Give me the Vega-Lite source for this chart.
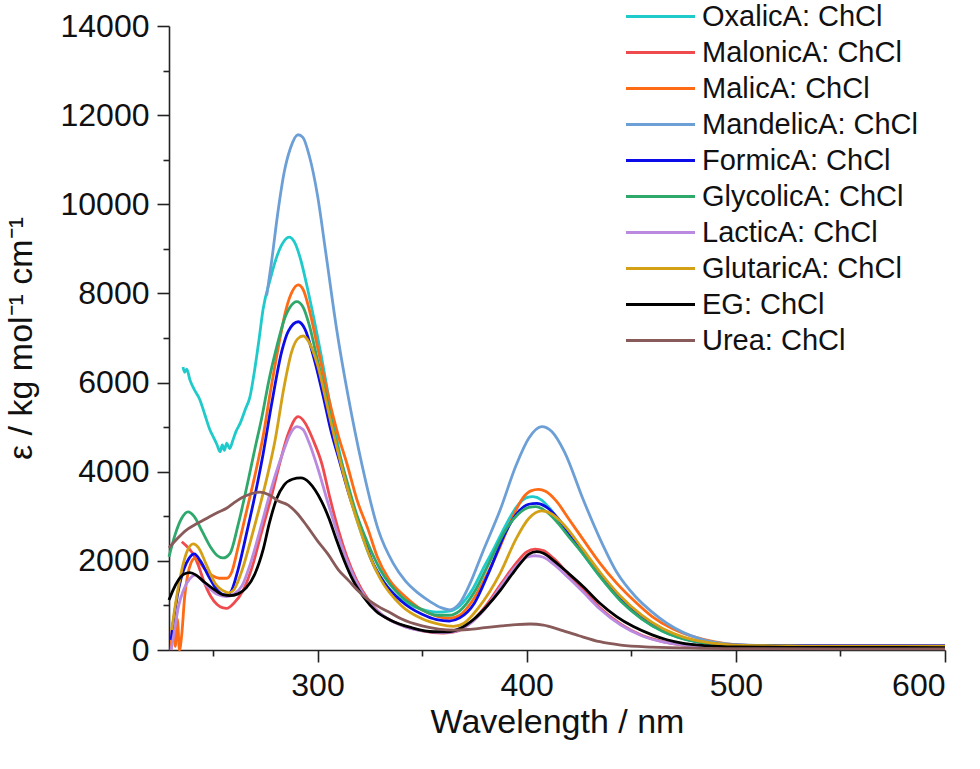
{
  "$schema": "https://vega.github.io/schema/vega-lite/v6.json",
  "width": 776,
  "height": 624,
  "autosize": {"type": "none"},
  "padding": {"left": 169, "top": 26, "right": 35, "bottom": 119},
  "background": "white",
  "config": {
    "view": {"stroke": null},
    "font": "Liberation Sans",
    "axis": {"grid": false, "domainColor": "#222", "tickColor": "#222", "domainWidth": 1.6, "tickWidth": 1.6, "labelColor": "#111", "titleColor": "#111", "labelFont": "Liberation Sans", "titleFont": "Liberation Sans", "titleFontWeight": "normal"}
  },
  "datasets": {
    "spec": [
      {"series":"OxalicA: ChCl","wl":235.7,"eps":6350},{"series":"OxalicA: ChCl","wl":236.5,"eps":6230},{"series":"OxalicA: ChCl","wl":237.5,"eps":6300},{"series":"OxalicA: ChCl","wl":239,"eps":6060},{"series":"OxalicA: ChCl","wl":241,"eps":5850},{"series":"OxalicA: ChCl","wl":243.8,"eps":5610},{"series":"OxalicA: ChCl","wl":246,"eps":5300},{"series":"OxalicA: ChCl","wl":248.6,"eps":4935},{"series":"OxalicA: ChCl","wl":250.5,"eps":4750},{"series":"OxalicA: ChCl","wl":252,"eps":4600},{"series":"OxalicA: ChCl","wl":253.4,"eps":4450},{"series":"OxalicA: ChCl","wl":254.5,"eps":4600},{"series":"OxalicA: ChCl","wl":255.5,"eps":4480},{"series":"OxalicA: ChCl","wl":256.6,"eps":4640},{"series":"OxalicA: ChCl","wl":258,"eps":4520},{"series":"OxalicA: ChCl","wl":259.5,"eps":4700},{"series":"OxalicA: ChCl","wl":261,"eps":4900},{"series":"OxalicA: ChCl","wl":263,"eps":5085},{"series":"OxalicA: ChCl","wl":265.5,"eps":5400},{"series":"OxalicA: ChCl","wl":267.7,"eps":5680},{"series":"OxalicA: ChCl","wl":270,"eps":6300},{"series":"OxalicA: ChCl","wl":272,"eps":6950},{"series":"OxalicA: ChCl","wl":274,"eps":7650},{"series":"OxalicA: ChCl","wl":277.3,"eps":8300},{"series":"OxalicA: ChCl","wl":280,"eps":8750},{"series":"OxalicA: ChCl","wl":283,"eps":9100},{"series":"OxalicA: ChCl","wl":286.4,"eps":9265},{"series":"OxalicA: ChCl","wl":289,"eps":9150},{"series":"OxalicA: ChCl","wl":292,"eps":8750},{"series":"OxalicA: ChCl","wl":294.8,"eps":8200},{"series":"OxalicA: ChCl","wl":298,"eps":7500},{"series":"OxalicA: ChCl","wl":302,"eps":6550},{"series":"OxalicA: ChCl","wl":306,"eps":5500},{"series":"OxalicA: ChCl","wl":310,"eps":4550},{"series":"OxalicA: ChCl","wl":315,"eps":3550},{"series":"OxalicA: ChCl","wl":320,"eps":2750},{"series":"OxalicA: ChCl","wl":325,"eps":2100},{"series":"OxalicA: ChCl","wl":330,"eps":1650},{"series":"OxalicA: ChCl","wl":336,"eps":1280},{"series":"OxalicA: ChCl","wl":343,"eps":1040},{"series":"OxalicA: ChCl","wl":350,"eps":910},{"series":"OxalicA: ChCl","wl":357,"eps":850},{"series":"OxalicA: ChCl","wl":363,"eps":870},{"series":"OxalicA: ChCl","wl":368,"eps":990},{"series":"OxalicA: ChCl","wl":374,"eps":1350},{"series":"OxalicA: ChCl","wl":380,"eps":1900},{"series":"OxalicA: ChCl","wl":384,"eps":2245},{"series":"OxalicA: ChCl","wl":390,"eps":2800},{"series":"OxalicA: ChCl","wl":395,"eps":3200},{"series":"OxalicA: ChCl","wl":400,"eps":3420},{"series":"OxalicA: ChCl","wl":403,"eps":3440},{"series":"OxalicA: ChCl","wl":407,"eps":3370},{"series":"OxalicA: ChCl","wl":412,"eps":3120},{"series":"OxalicA: ChCl","wl":418,"eps":2720},{"series":"OxalicA: ChCl","wl":427,"eps":2150},{"series":"OxalicA: ChCl","wl":435,"eps":1650},{"series":"OxalicA: ChCl","wl":445,"eps":1100},{"series":"OxalicA: ChCl","wl":455,"eps":700},{"series":"OxalicA: ChCl","wl":465,"eps":420},{"series":"OxalicA: ChCl","wl":475,"eps":250},{"series":"OxalicA: ChCl","wl":485,"eps":160},{"series":"OxalicA: ChCl","wl":500,"eps":105},{"series":"OxalicA: ChCl","wl":525,"eps":85},{"series":"OxalicA: ChCl","wl":550,"eps":80},{"series":"OxalicA: ChCl","wl":575,"eps":78},{"series":"OxalicA: ChCl","wl":600,"eps":78},

      {"series":"MalonicA: ChCl","wl":235.1,"eps":2430},{"series":"MalonicA: ChCl","wl":237,"eps":2350},{"series":"MalonicA: ChCl","wl":239,"eps":2250},{"series":"MalonicA: ChCl","wl":241,"eps":2120},{"series":"MalonicA: ChCl","wl":243,"eps":1900},{"series":"MalonicA: ChCl","wl":246,"eps":1500},{"series":"MalonicA: ChCl","wl":249,"eps":1200},{"series":"MalonicA: ChCl","wl":252,"eps":1020},{"series":"MalonicA: ChCl","wl":254.5,"eps":950},{"series":"MalonicA: ChCl","wl":256.6,"eps":935},{"series":"MalonicA: ChCl","wl":260,"eps":1050},{"series":"MalonicA: ChCl","wl":264.5,"eps":1345},{"series":"MalonicA: ChCl","wl":269,"eps":1900},{"series":"MalonicA: ChCl","wl":273,"eps":2600},{"series":"MalonicA: ChCl","wl":278,"eps":3450},{"series":"MalonicA: ChCl","wl":282,"eps":4200},{"series":"MalonicA: ChCl","wl":286,"eps":4850},{"series":"MalonicA: ChCl","wl":290.8,"eps":5235},{"series":"MalonicA: ChCl","wl":294,"eps":5100},{"series":"MalonicA: ChCl","wl":298,"eps":4700},{"series":"MalonicA: ChCl","wl":302,"eps":4190},{"series":"MalonicA: ChCl","wl":306,"eps":3400},{"series":"MalonicA: ChCl","wl":310,"eps":2690},{"series":"MalonicA: ChCl","wl":314,"eps":2100},{"series":"MalonicA: ChCl","wl":318.7,"eps":1570},{"series":"MalonicA: ChCl","wl":324,"eps":1150},{"series":"MalonicA: ChCl","wl":330,"eps":820},{"series":"MalonicA: ChCl","wl":340,"eps":560},{"series":"MalonicA: ChCl","wl":350,"eps":430},{"series":"MalonicA: ChCl","wl":360,"eps":380},{"series":"MalonicA: ChCl","wl":366,"eps":410},{"series":"MalonicA: ChCl","wl":372,"eps":570},{"series":"MalonicA: ChCl","wl":380,"eps":960},{"series":"MalonicA: ChCl","wl":388,"eps":1500},{"series":"MalonicA: ChCl","wl":395,"eps":1950},{"series":"MalonicA: ChCl","wl":400,"eps":2200},{"series":"MalonicA: ChCl","wl":404,"eps":2265},{"series":"MalonicA: ChCl","wl":408,"eps":2230},{"series":"MalonicA: ChCl","wl":413,"eps":2050},{"series":"MalonicA: ChCl","wl":420,"eps":1700},{"series":"MalonicA: ChCl","wl":427,"eps":1350},{"series":"MalonicA: ChCl","wl":435,"eps":950},{"series":"MalonicA: ChCl","wl":445,"eps":580},{"series":"MalonicA: ChCl","wl":455,"eps":330},{"series":"MalonicA: ChCl","wl":465,"eps":190},{"series":"MalonicA: ChCl","wl":475,"eps":110},{"series":"MalonicA: ChCl","wl":485,"eps":80},{"series":"MalonicA: ChCl","wl":500,"eps":62},{"series":"MalonicA: ChCl","wl":525,"eps":57},{"series":"MalonicA: ChCl","wl":550,"eps":55},{"series":"MalonicA: ChCl","wl":600,"eps":55},

      {"series":"MalicA: ChCl","wl":230,"eps":0},{"series":"MalicA: ChCl","wl":231,"eps":650},{"series":"MalicA: ChCl","wl":232,"eps":80},{"series":"MalicA: ChCl","wl":233,"eps":700},{"series":"MalicA: ChCl","wl":234,"eps":0},{"series":"MalicA: ChCl","wl":235,"eps":300},{"series":"MalicA: ChCl","wl":236.5,"eps":1200},{"series":"MalicA: ChCl","wl":238,"eps":1700},{"series":"MalicA: ChCl","wl":239.5,"eps":1950},{"series":"MalicA: ChCl","wl":241.1,"eps":2050},{"series":"MalicA: ChCl","wl":243,"eps":2000},{"series":"MalicA: ChCl","wl":246,"eps":1820},{"series":"MalicA: ChCl","wl":250,"eps":1660},{"series":"MalicA: ChCl","wl":253,"eps":1610},{"series":"MalicA: ChCl","wl":256.6,"eps":1610},{"series":"MalicA: ChCl","wl":259,"eps":1750},{"series":"MalicA: ChCl","wl":262,"eps":2300},{"series":"MalicA: ChCl","wl":266,"eps":3100},{"series":"MalicA: ChCl","wl":270,"eps":3900},{"series":"MalicA: ChCl","wl":274,"eps":4800},{"series":"MalicA: ChCl","wl":277.5,"eps":5800},{"series":"MalicA: ChCl","wl":281.3,"eps":6800},{"series":"MalicA: ChCl","wl":285,"eps":7650},{"series":"MalicA: ChCl","wl":288,"eps":8050},{"series":"MalicA: ChCl","wl":290.8,"eps":8190},{"series":"MalicA: ChCl","wl":293,"eps":8100},{"series":"MalicA: ChCl","wl":296,"eps":7650},{"series":"MalicA: ChCl","wl":300,"eps":6800},{"series":"MalicA: ChCl","wl":305.2,"eps":5680},{"series":"MalicA: ChCl","wl":310,"eps":4800},{"series":"MalicA: ChCl","wl":314,"eps":4190},{"series":"MalicA: ChCl","wl":319,"eps":3350},{"series":"MalicA: ChCl","wl":324.3,"eps":2690},{"series":"MalicA: ChCl","wl":328.5,"eps":2100},{"series":"MalicA: ChCl","wl":334,"eps":1600},{"series":"MalicA: ChCl","wl":342,"eps":1195},{"series":"MalicA: ChCl","wl":350,"eps":900},{"series":"MalicA: ChCl","wl":357,"eps":760},{"series":"MalicA: ChCl","wl":363,"eps":710},{"series":"MalicA: ChCl","wl":368,"eps":780},{"series":"MalicA: ChCl","wl":374,"eps":1100},{"series":"MalicA: ChCl","wl":380,"eps":1600},{"series":"MalicA: ChCl","wl":387.3,"eps":2320},{"series":"MalicA: ChCl","wl":393,"eps":2950},{"series":"MalicA: ChCl","wl":398,"eps":3400},{"series":"MalicA: ChCl","wl":402,"eps":3570},{"series":"MalicA: ChCl","wl":405.6,"eps":3605},{"series":"MalicA: ChCl","wl":409,"eps":3560},{"series":"MalicA: ChCl","wl":414,"eps":3350},{"series":"MalicA: ChCl","wl":420,"eps":2950},{"series":"MalicA: ChCl","wl":427.1,"eps":2470},{"series":"MalicA: ChCl","wl":435,"eps":1950},{"series":"MalicA: ChCl","wl":443,"eps":1500},{"series":"MalicA: ChCl","wl":451,"eps":1120},{"series":"MalicA: ChCl","wl":460,"eps":750},{"series":"MalicA: ChCl","wl":470,"eps":470},{"series":"MalicA: ChCl","wl":479.7,"eps":300},{"series":"MalicA: ChCl","wl":490,"eps":180},{"series":"MalicA: ChCl","wl":500,"eps":115},{"series":"MalicA: ChCl","wl":525,"eps":85},{"series":"MalicA: ChCl","wl":550,"eps":78},{"series":"MalicA: ChCl","wl":600,"eps":75},

      {"series":"MandelicA: ChCl","wl":275.7,"eps":7950},{"series":"MandelicA: ChCl","wl":278,"eps":8700},{"series":"MandelicA: ChCl","wl":281,"eps":9800},{"series":"MandelicA: ChCl","wl":284,"eps":10700},{"series":"MandelicA: ChCl","wl":287,"eps":11250},{"series":"MandelicA: ChCl","wl":290.7,"eps":11560},{"series":"MandelicA: ChCl","wl":293,"eps":11500},{"series":"MandelicA: ChCl","wl":296,"eps":11100},{"series":"MandelicA: ChCl","wl":300,"eps":10200},{"series":"MandelicA: ChCl","wl":304,"eps":8900},{"series":"MandelicA: ChCl","wl":309.2,"eps":7180},{"series":"MandelicA: ChCl","wl":314.7,"eps":5680},{"series":"MandelicA: ChCl","wl":321.1,"eps":4190},{"series":"MandelicA: ChCl","wl":329.1,"eps":2690},{"series":"MandelicA: ChCl","wl":336.2,"eps":1945},{"series":"MandelicA: ChCl","wl":342,"eps":1550},{"series":"MandelicA: ChCl","wl":348,"eps":1280},{"series":"MandelicA: ChCl","wl":354,"eps":1080},{"series":"MandelicA: ChCl","wl":359,"eps":950},{"series":"MandelicA: ChCl","wl":363.3,"eps":900},{"series":"MandelicA: ChCl","wl":368,"eps":1050},{"series":"MandelicA: ChCl","wl":373,"eps":1500},{"series":"MandelicA: ChCl","wl":379,"eps":2200},{"series":"MandelicA: ChCl","wl":387.3,"eps":3140},{"series":"MandelicA: ChCl","wl":395,"eps":4150},{"series":"MandelicA: ChCl","wl":401,"eps":4750},{"series":"MandelicA: ChCl","wl":407.2,"eps":5010},{"series":"MandelicA: ChCl","wl":412,"eps":4900},{"series":"MandelicA: ChCl","wl":418,"eps":4450},{"series":"MandelicA: ChCl","wl":427.1,"eps":3365},{"series":"MandelicA: ChCl","wl":435,"eps":2500},{"series":"MandelicA: ChCl","wl":443,"eps":1750},{"series":"MandelicA: ChCl","wl":452,"eps":1200},{"series":"MandelicA: ChCl","wl":460,"eps":850},{"series":"MandelicA: ChCl","wl":467,"eps":600},{"series":"MandelicA: ChCl","wl":475,"eps":390},{"series":"MandelicA: ChCl","wl":482.9,"eps":250},{"series":"MandelicA: ChCl","wl":490,"eps":170},{"series":"MandelicA: ChCl","wl":500,"eps":120},{"series":"MandelicA: ChCl","wl":525,"eps":92},{"series":"MandelicA: ChCl","wl":550,"eps":88},{"series":"MandelicA: ChCl","wl":600,"eps":85},

      {"series":"FormicA: ChCl","wl":230,"eps":225},{"series":"FormicA: ChCl","wl":231,"eps":600},{"series":"FormicA: ChCl","wl":233.5,"eps":1345},{"series":"FormicA: ChCl","wl":236,"eps":1800},{"series":"FormicA: ChCl","wl":238.5,"eps":2050},{"series":"FormicA: ChCl","wl":241.1,"eps":2155},{"series":"FormicA: ChCl","wl":244,"eps":2000},{"series":"FormicA: ChCl","wl":248,"eps":1650},{"series":"FormicA: ChCl","wl":252,"eps":1350},{"series":"FormicA: ChCl","wl":255.8,"eps":1235},{"series":"FormicA: ChCl","wl":258.2,"eps":1280},{"series":"FormicA: ChCl","wl":262,"eps":1800},{"series":"FormicA: ChCl","wl":266,"eps":2600},{"series":"FormicA: ChCl","wl":270,"eps":3450},{"series":"FormicA: ChCl","wl":274,"eps":4400},{"series":"FormicA: ChCl","wl":278,"eps":5500},{"series":"FormicA: ChCl","wl":282.9,"eps":6700},{"series":"FormicA: ChCl","wl":286,"eps":7150},{"series":"FormicA: ChCl","wl":290.8,"eps":7365},{"series":"FormicA: ChCl","wl":294,"eps":7200},{"series":"FormicA: ChCl","wl":298,"eps":6600},{"series":"FormicA: ChCl","wl":302.8,"eps":5680},{"series":"FormicA: ChCl","wl":306,"eps":5000},{"series":"FormicA: ChCl","wl":310.8,"eps":4190},{"series":"FormicA: ChCl","wl":316,"eps":3350},{"series":"FormicA: ChCl","wl":321.1,"eps":2690},{"series":"FormicA: ChCl","wl":326,"eps":2000},{"series":"FormicA: ChCl","wl":332,"eps":1500},{"series":"FormicA: ChCl","wl":340,"eps":1100},{"series":"FormicA: ChCl","wl":350,"eps":800},{"series":"FormicA: ChCl","wl":357,"eps":680},{"series":"FormicA: ChCl","wl":363,"eps":650},{"series":"FormicA: ChCl","wl":368,"eps":720},{"series":"FormicA: ChCl","wl":375,"eps":1050},{"series":"FormicA: ChCl","wl":382,"eps":1750},{"series":"FormicA: ChCl","wl":390,"eps":2650},{"series":"FormicA: ChCl","wl":396,"eps":3100},{"series":"FormicA: ChCl","wl":401,"eps":3270},{"series":"FormicA: ChCl","wl":404.8,"eps":3290},{"series":"FormicA: ChCl","wl":409,"eps":3220},{"series":"FormicA: ChCl","wl":415,"eps":2950},{"series":"FormicA: ChCl","wl":421,"eps":2550},{"series":"FormicA: ChCl","wl":427,"eps":2200},{"series":"FormicA: ChCl","wl":435,"eps":1700},{"series":"FormicA: ChCl","wl":445,"eps":1150},{"series":"FormicA: ChCl","wl":455,"eps":730},{"series":"FormicA: ChCl","wl":465,"eps":440},{"series":"FormicA: ChCl","wl":475,"eps":260},{"series":"FormicA: ChCl","wl":485,"eps":165},{"series":"FormicA: ChCl","wl":500,"eps":110},{"series":"FormicA: ChCl","wl":525,"eps":98},{"series":"FormicA: ChCl","wl":550,"eps":96},{"series":"FormicA: ChCl","wl":575,"eps":95},{"series":"FormicA: ChCl","wl":600,"eps":95},

      {"series":"GlycolicA: ChCl","wl":229,"eps":2090},{"series":"GlycolicA: ChCl","wl":232,"eps":2600},{"series":"GlycolicA: ChCl","wl":235,"eps":2950},{"series":"GlycolicA: ChCl","wl":238.1,"eps":3100},{"series":"GlycolicA: ChCl","wl":241,"eps":3000},{"series":"GlycolicA: ChCl","wl":245,"eps":2650},{"series":"GlycolicA: ChCl","wl":249,"eps":2300},{"series":"GlycolicA: ChCl","wl":252,"eps":2120},{"series":"GlycolicA: ChCl","wl":254.8,"eps":2065},{"series":"GlycolicA: ChCl","wl":258.2,"eps":2170},{"series":"GlycolicA: ChCl","wl":262,"eps":2800},{"series":"GlycolicA: ChCl","wl":266.9,"eps":3815},{"series":"GlycolicA: ChCl","wl":270,"eps":4500},{"series":"GlycolicA: ChCl","wl":273.3,"eps":5200},{"series":"GlycolicA: ChCl","wl":277,"eps":6100},{"series":"GlycolicA: ChCl","wl":280.5,"eps":6800},{"series":"GlycolicA: ChCl","wl":284,"eps":7400},{"series":"GlycolicA: ChCl","wl":287,"eps":7700},{"series":"GlycolicA: ChCl","wl":290.1,"eps":7815},{"series":"GlycolicA: ChCl","wl":293,"eps":7700},{"series":"GlycolicA: ChCl","wl":296,"eps":7300},{"series":"GlycolicA: ChCl","wl":300,"eps":6500},{"series":"GlycolicA: ChCl","wl":304,"eps":5700},{"series":"GlycolicA: ChCl","wl":309,"eps":4650},{"series":"GlycolicA: ChCl","wl":314,"eps":3800},{"series":"GlycolicA: ChCl","wl":319,"eps":3000},{"series":"GlycolicA: ChCl","wl":324,"eps":2400},{"series":"GlycolicA: ChCl","wl":330,"eps":1800},{"series":"GlycolicA: ChCl","wl":340,"eps":1200},{"series":"GlycolicA: ChCl","wl":350,"eps":900},{"series":"GlycolicA: ChCl","wl":357,"eps":780},{"series":"GlycolicA: ChCl","wl":363,"eps":780},{"series":"GlycolicA: ChCl","wl":368,"eps":880},{"series":"GlycolicA: ChCl","wl":375,"eps":1300},{"series":"GlycolicA: ChCl","wl":382,"eps":1950},{"series":"GlycolicA: ChCl","wl":390,"eps":2700},{"series":"GlycolicA: ChCl","wl":396,"eps":3050},{"series":"GlycolicA: ChCl","wl":401,"eps":3200},{"series":"GlycolicA: ChCl","wl":404.4,"eps":3215},{"series":"GlycolicA: ChCl","wl":408,"eps":3150},{"series":"GlycolicA: ChCl","wl":414,"eps":2900},{"series":"GlycolicA: ChCl","wl":420,"eps":2550},{"series":"GlycolicA: ChCl","wl":427,"eps":2150},{"series":"GlycolicA: ChCl","wl":435,"eps":1650},{"series":"GlycolicA: ChCl","wl":445,"eps":1100},{"series":"GlycolicA: ChCl","wl":455,"eps":700},{"series":"GlycolicA: ChCl","wl":465,"eps":420},{"series":"GlycolicA: ChCl","wl":475,"eps":250},{"series":"GlycolicA: ChCl","wl":485,"eps":160},{"series":"GlycolicA: ChCl","wl":500,"eps":100},{"series":"GlycolicA: ChCl","wl":525,"eps":85},{"series":"GlycolicA: ChCl","wl":550,"eps":80},{"series":"GlycolicA: ChCl","wl":600,"eps":80},

      {"series":"LacticA: ChCl","wl":230,"eps":0},{"series":"LacticA: ChCl","wl":231.5,"eps":400},{"series":"LacticA: ChCl","wl":233.5,"eps":970},{"series":"LacticA: ChCl","wl":236,"eps":1350},{"series":"LacticA: ChCl","wl":239,"eps":1600},{"series":"LacticA: ChCl","wl":241.4,"eps":1680},{"series":"LacticA: ChCl","wl":244,"eps":1600},{"series":"LacticA: ChCl","wl":248,"eps":1400},{"series":"LacticA: ChCl","wl":252,"eps":1250},{"series":"LacticA: ChCl","wl":256.6,"eps":1200},{"series":"LacticA: ChCl","wl":260,"eps":1250},{"series":"LacticA: ChCl","wl":264,"eps":1450},{"series":"LacticA: ChCl","wl":268,"eps":1950},{"series":"LacticA: ChCl","wl":272,"eps":2600},{"series":"LacticA: ChCl","wl":276,"eps":3300},{"series":"LacticA: ChCl","wl":280,"eps":3950},{"series":"LacticA: ChCl","wl":284,"eps":4500},{"series":"LacticA: ChCl","wl":287,"eps":4850},{"series":"LacticA: ChCl","wl":290.1,"eps":5010},{"series":"LacticA: ChCl","wl":293,"eps":4950},{"series":"LacticA: ChCl","wl":296,"eps":4650},{"series":"LacticA: ChCl","wl":300,"eps":4100},{"series":"LacticA: ChCl","wl":305,"eps":3300},{"series":"LacticA: ChCl","wl":310,"eps":2550},{"series":"LacticA: ChCl","wl":315,"eps":1900},{"series":"LacticA: ChCl","wl":320,"eps":1400},{"series":"LacticA: ChCl","wl":326,"eps":1000},{"series":"LacticA: ChCl","wl":333,"eps":720},{"series":"LacticA: ChCl","wl":342,"eps":520},{"series":"LacticA: ChCl","wl":352,"eps":420},{"series":"LacticA: ChCl","wl":360,"eps":390},{"series":"LacticA: ChCl","wl":366,"eps":420},{"series":"LacticA: ChCl","wl":372,"eps":560},{"series":"LacticA: ChCl","wl":380,"eps":920},{"series":"LacticA: ChCl","wl":388,"eps":1450},{"series":"LacticA: ChCl","wl":395,"eps":1880},{"series":"LacticA: ChCl","wl":400,"eps":2080},{"series":"LacticA: ChCl","wl":404,"eps":2115},{"series":"LacticA: ChCl","wl":408,"eps":2080},{"series":"LacticA: ChCl","wl":413,"eps":1920},{"series":"LacticA: ChCl","wl":420,"eps":1620},{"series":"LacticA: ChCl","wl":427,"eps":1300},{"series":"LacticA: ChCl","wl":435,"eps":920},{"series":"LacticA: ChCl","wl":445,"eps":560},{"series":"LacticA: ChCl","wl":455,"eps":320},{"series":"LacticA: ChCl","wl":465,"eps":180},{"series":"LacticA: ChCl","wl":475,"eps":110},{"series":"LacticA: ChCl","wl":485,"eps":75},{"series":"LacticA: ChCl","wl":500,"eps":60},{"series":"LacticA: ChCl","wl":550,"eps":56},{"series":"LacticA: ChCl","wl":600,"eps":55},

      {"series":"GlutaricA: ChCl","wl":230.3,"eps":450},{"series":"GlutaricA: ChCl","wl":232,"eps":1000},{"series":"GlutaricA: ChCl","wl":235.1,"eps":1795},{"series":"GlutaricA: ChCl","wl":238,"eps":2250},{"series":"GlutaricA: ChCl","wl":240.6,"eps":2380},{"series":"GlutaricA: ChCl","wl":243,"eps":2300},{"series":"GlutaricA: ChCl","wl":247,"eps":1900},{"series":"GlutaricA: ChCl","wl":251,"eps":1500},{"series":"GlutaricA: ChCl","wl":255.8,"eps":1310},{"series":"GlutaricA: ChCl","wl":257.4,"eps":1280},{"series":"GlutaricA: ChCl","wl":260,"eps":1350},{"series":"GlutaricA: ChCl","wl":264,"eps":1800},{"series":"GlutaricA: ChCl","wl":268,"eps":2450},{"series":"GlutaricA: ChCl","wl":272,"eps":3150},{"series":"GlutaricA: ChCl","wl":276,"eps":3900},{"series":"GlutaricA: ChCl","wl":279.7,"eps":4700},{"series":"GlutaricA: ChCl","wl":284,"eps":5900},{"series":"GlutaricA: ChCl","wl":287.7,"eps":6700},{"series":"GlutaricA: ChCl","wl":290.5,"eps":6980},{"series":"GlutaricA: ChCl","wl":293.2,"eps":7045},{"series":"GlutaricA: ChCl","wl":296,"eps":6900},{"series":"GlutaricA: ChCl","wl":300,"eps":6400},{"series":"GlutaricA: ChCl","wl":305,"eps":5400},{"series":"GlutaricA: ChCl","wl":310,"eps":4400},{"series":"GlutaricA: ChCl","wl":315,"eps":3500},{"series":"GlutaricA: ChCl","wl":320,"eps":2750},{"series":"GlutaricA: ChCl","wl":325,"eps":2100},{"series":"GlutaricA: ChCl","wl":330,"eps":1600},{"series":"GlutaricA: ChCl","wl":340,"eps":1000},{"series":"GlutaricA: ChCl","wl":350,"eps":700},{"series":"GlutaricA: ChCl","wl":358,"eps":580},{"series":"GlutaricA: ChCl","wl":365,"eps":530},{"series":"GlutaricA: ChCl","wl":370,"eps":600},{"series":"GlutaricA: ChCl","wl":377,"eps":950},{"series":"GlutaricA: ChCl","wl":387.3,"eps":1720},{"series":"GlutaricA: ChCl","wl":395,"eps":2500},{"series":"GlutaricA: ChCl","wl":401,"eps":2950},{"series":"GlutaricA: ChCl","wl":407.2,"eps":3120},{"series":"GlutaricA: ChCl","wl":412,"eps":3050},{"series":"GlutaricA: ChCl","wl":418,"eps":2800},{"series":"GlutaricA: ChCl","wl":427,"eps":2250},{"series":"GlutaricA: ChCl","wl":435,"eps":1750},{"series":"GlutaricA: ChCl","wl":445,"eps":1200},{"series":"GlutaricA: ChCl","wl":455,"eps":780},{"series":"GlutaricA: ChCl","wl":465,"eps":480},{"series":"GlutaricA: ChCl","wl":475,"eps":290},{"series":"GlutaricA: ChCl","wl":485,"eps":180},{"series":"GlutaricA: ChCl","wl":500,"eps":110},{"series":"GlutaricA: ChCl","wl":525,"eps":90},{"series":"GlutaricA: ChCl","wl":550,"eps":86},{"series":"GlutaricA: ChCl","wl":600,"eps":85},

      {"series":"EG: ChCl","wl":229,"eps":1120},{"series":"EG: ChCl","wl":231,"eps":1350},{"series":"EG: ChCl","wl":233.5,"eps":1570},{"series":"EG: ChCl","wl":236,"eps":1700},{"series":"EG: ChCl","wl":239,"eps":1735},{"series":"EG: ChCl","wl":242,"eps":1680},{"series":"EG: ChCl","wl":246,"eps":1520},{"series":"EG: ChCl","wl":251,"eps":1345},{"series":"EG: ChCl","wl":255,"eps":1235},{"series":"EG: ChCl","wl":258,"eps":1220},{"series":"EG: ChCl","wl":262,"eps":1260},{"series":"EG: ChCl","wl":266,"eps":1400},{"series":"EG: ChCl","wl":270,"eps":1700},{"series":"EG: ChCl","wl":274,"eps":2250},{"series":"EG: ChCl","wl":277,"eps":2850},{"series":"EG: ChCl","wl":280.5,"eps":3400},{"series":"EG: ChCl","wl":284,"eps":3700},{"series":"EG: ChCl","wl":288,"eps":3830},{"series":"EG: ChCl","wl":292,"eps":3860},{"series":"EG: ChCl","wl":296,"eps":3760},{"series":"EG: ChCl","wl":299,"eps":3580},{"series":"EG: ChCl","wl":302,"eps":3330},{"series":"EG: ChCl","wl":305.5,"eps":2950},{"series":"EG: ChCl","wl":309,"eps":2480},{"series":"EG: ChCl","wl":313,"eps":1980},{"series":"EG: ChCl","wl":317,"eps":1560},{"series":"EG: ChCl","wl":321.9,"eps":1195},{"series":"EG: ChCl","wl":328,"eps":870},{"series":"EG: ChCl","wl":334.7,"eps":675},{"series":"EG: ChCl","wl":345,"eps":500},{"series":"EG: ChCl","wl":355.4,"eps":410},{"series":"EG: ChCl","wl":362,"eps":410},{"series":"EG: ChCl","wl":368,"eps":480},{"series":"EG: ChCl","wl":375,"eps":700},{"series":"EG: ChCl","wl":381,"eps":980},{"series":"EG: ChCl","wl":387.3,"eps":1330},{"series":"EG: ChCl","wl":393,"eps":1700},{"series":"EG: ChCl","wl":398,"eps":2000},{"series":"EG: ChCl","wl":401,"eps":2150},{"series":"EG: ChCl","wl":404.8,"eps":2205},{"series":"EG: ChCl","wl":408,"eps":2170},{"series":"EG: ChCl","wl":413,"eps":2000},{"series":"EG: ChCl","wl":420,"eps":1720},{"series":"EG: ChCl","wl":427.1,"eps":1420},{"series":"EG: ChCl","wl":435,"eps":1050},{"series":"EG: ChCl","wl":443,"eps":750},{"series":"EG: ChCl","wl":451,"eps":525},{"series":"EG: ChCl","wl":460,"eps":340},{"series":"EG: ChCl","wl":467,"eps":230},{"series":"EG: ChCl","wl":474.9,"eps":150},{"series":"EG: ChCl","wl":485,"eps":100},{"series":"EG: ChCl","wl":500,"eps":70},{"series":"EG: ChCl","wl":525,"eps":60},{"series":"EG: ChCl","wl":600,"eps":55},

      {"series":"Urea: ChCl","wl":229,"eps":2290},{"series":"Urea: ChCl","wl":233,"eps":2500},{"series":"Urea: ChCl","wl":237,"eps":2680},{"series":"Urea: ChCl","wl":241,"eps":2800},{"series":"Urea: ChCl","wl":243.8,"eps":2870},{"series":"Urea: ChCl","wl":248,"eps":2980},{"series":"Urea: ChCl","wl":252,"eps":3080},{"series":"Urea: ChCl","wl":256.7,"eps":3185},{"series":"Urea: ChCl","wl":260,"eps":3300},{"series":"Urea: ChCl","wl":264,"eps":3420},{"series":"Urea: ChCl","wl":268,"eps":3500},{"series":"Urea: ChCl","wl":272.5,"eps":3540},{"series":"Urea: ChCl","wl":277,"eps":3480},{"series":"Urea: ChCl","wl":281,"eps":3350},{"series":"Urea: ChCl","wl":286,"eps":3250},{"series":"Urea: ChCl","wl":290,"eps":3080},{"series":"Urea: ChCl","wl":295,"eps":2780},{"series":"Urea: ChCl","wl":300,"eps":2450},{"series":"Urea: ChCl","wl":305,"eps":2150},{"series":"Urea: ChCl","wl":310,"eps":1800},{"series":"Urea: ChCl","wl":315,"eps":1550},{"series":"Urea: ChCl","wl":320,"eps":1300},{"series":"Urea: ChCl","wl":325,"eps":1100},{"series":"Urea: ChCl","wl":330,"eps":950},{"series":"Urea: ChCl","wl":335,"eps":830},{"series":"Urea: ChCl","wl":340,"eps":700},{"series":"Urea: ChCl","wl":350,"eps":540},{"series":"Urea: ChCl","wl":358,"eps":470},{"series":"Urea: ChCl","wl":365,"eps":445},{"series":"Urea: ChCl","wl":372,"eps":460},{"series":"Urea: ChCl","wl":380,"eps":500},{"series":"Urea: ChCl","wl":388,"eps":540},{"series":"Urea: ChCl","wl":395,"eps":570},{"series":"Urea: ChCl","wl":401.6,"eps":583},{"series":"Urea: ChCl","wl":408,"eps":560},{"series":"Urea: ChCl","wl":415,"eps":470},{"series":"Urea: ChCl","wl":425,"eps":320},{"series":"Urea: ChCl","wl":435,"eps":186},{"series":"Urea: ChCl","wl":445,"eps":110},{"series":"Urea: ChCl","wl":460,"eps":65},{"series":"Urea: ChCl","wl":482.9,"eps":38},{"series":"Urea: ChCl","wl":500,"eps":30},{"series":"Urea: ChCl","wl":550,"eps":25},{"series":"Urea: ChCl","wl":600,"eps":25}
    ]
  },
  "data": {"name": "spec"},
  "layer": [
    {
      "mark": {"type": "line", "strokeWidth": 2.8, "interpolate": "monotone"},
      "encoding": {
        "x": {"field": "wl", "type": "quantitative", "scale": {"domain": [229, 600], "nice": false, "zero": false},
              "axis": {"title": "Wavelength / nm", "values": [300, 400, 500, 600], "tickSize": 12, "labelFontSize": 32, "labelPadding": 8, "titleFontSize": 34, "titlePadding": 4}},
        "y": {"field": "eps", "type": "quantitative", "scale": {"domain": [0, 14000], "nice": false},
              "axis": {"title": "ε / kg mol⁻¹ cm⁻¹", "values": [0, 2000, 4000, 6000, 8000, 10000, 12000, 14000], "tickSize": 12, "labelFontSize": 32, "labelPadding": 8, "titleFontSize": 34, "titlePadding": 22, "format": "d"}},
        "color": {"field": "series", "type": "nominal",
          "scale": {"domain": ["OxalicA: ChCl","MalonicA: ChCl","MalicA: ChCl","MandelicA: ChCl","FormicA: ChCl","GlycolicA: ChCl","LacticA: ChCl","GlutaricA: ChCl","EG: ChCl","Urea: ChCl"],
                    "range": ["#1fcaca","#ef4b4f","#ff6a14","#6c9fd6","#0c0ce8","#2fa86c","#b98ae0","#d4a016","#000000","#885a5a"]},
          "legend": {"title": null, "orient": "none", "legendX": 457, "legendY": -26, "padding": 0,
                     "symbolType": "M-2.3,0L2.3,0", "symbolSize": 900, "symbolStrokeWidth": 3, "symbolOffset": 18,
                     "labelOffset": 25, "labelFontSize": 29, "labelFont": "Liberation Sans", "labelColor": "#111", "rowPadding": 4, "labelLimit": 400}}
      }
    },
    {
      "mark": {"type": "point", "opacity": 0},
      "encoding": {
        "x": {"field": "wl", "type": "quantitative", "axis": {"orient": "bottom", "title": null, "labels": false, "domain": false, "values": [250, 350, 450, 550], "tickSize": 6}},
        "y": {"field": "eps", "type": "quantitative", "axis": {"orient": "left", "title": null, "labels": false, "domain": false, "values": [1000, 3000, 5000, 7000, 9000, 11000, 13000], "tickSize": 6}}
      }
    }
  ],
  "resolve": {"axis": {"x": "independent", "y": "independent"}}
}
